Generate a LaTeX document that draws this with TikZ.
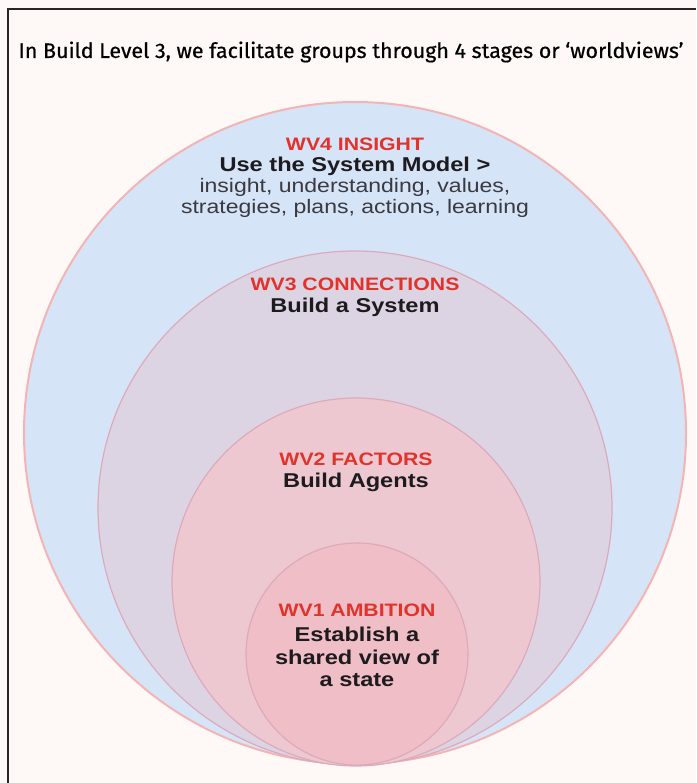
\documentclass[tikz,border=0pt]{standalone}
\usepackage{fontspec}
\setmainfont{Liberation Sans}
\newfontfamily\titlefont[FakeStretch=1.02, FakeBold=0.6]{Fira Sans}
\newfontfamily\wvfont[FakeStretch=1.18]{Liberation Sans}
\usepackage{tikz}
\definecolor{paper}{HTML}{FEF9F7}
\definecolor{wvred}{HTML}{E2332B}
\definecolor{wvink}{HTML}{1E1B1E}
\definecolor{wvgrey}{HTML}{3A3A40}
\definecolor{ringfour}{HTML}{D5E4F7}
\definecolor{ringthree}{HTML}{DDD4E3}
\definecolor{ringtwo}{HTML}{EDC8D0}
\definecolor{ringone}{HTML}{F0BEC6}
\definecolor{rimfour}{HTML}{F5B4B4}
\definecolor{rimin}{HTML}{DDAABB}

\begin{document}
\begin{tikzpicture}[x=1pt, y=-1pt,
    ring/.style={circle, inner sep=0pt, line width=1.2pt},
    wvhead/.style={font=\wvfont\bfseries\fontsize{18}{21}\selectfont, text=wvred},
    wvtask/.style={font=\wvfont\bfseries\fontsize{20}{22.5}\selectfont, text=wvink, align=center},
    wvlist/.style={font=\wvfont\fontsize{19.5}{20.5}\selectfont, text=wvgrey, align=center}]
  % background and frame
  \fill[paper] (0,0) rectangle (696,783);
  \useasboundingbox (0,0) rectangle (696,783);
  \draw[line width=1.2pt, black!85] (8,783) -- (8,9) -- (696,9);
  \node[font=\titlefont\fontsize{21}{24}\selectfont, anchor=west] (title) at (15,52)
    {In Build Level 3, we facilitate groups through 4 stages or ‘worldviews’};
  % the four worldviews
  \node[ring, fill=ringfour, draw=rimfour, line width=2pt, minimum size=662pt] (wvfour) at (355,433) {};
  \node[ring, fill=ringthree, draw=rimin, minimum size=514pt] (wvthree) at (355,508) {};
  \node[ring, fill=ringtwo, draw=rimin, minimum size=368pt] (wvtwo) at (356,582) {};
  \node[ring, fill=ringone, draw=rimin, minimum size=222pt] (wvone) at (357,654) {};
  % texts
  \node[wvhead] (insight) at (355,144) {WV4 INSIGHT};
  \node[wvtask] (model) at (355,166) {Use the System Model >};
  \node[wvlist] (uses) at (355,198) {insight, understanding, values,\\strategies, plans, actions, learning};
  \node[wvhead] (connections) at (355,284) {WV3 CONNECTIONS};
  \node[wvtask] (system) at (355,307) {Build a System};
  \node[wvhead] (factors) at (356,459) {WV2 FACTORS};
  \node[wvtask] (agents) at (356,482) {Build Agents};
  \node[wvhead] (ambition) at (357,610) {WV1 AMBITION};
  \node[wvtask] (state) at (357,657) {Establish a\\shared view of\\a state};
\end{tikzpicture}
\end{document}
